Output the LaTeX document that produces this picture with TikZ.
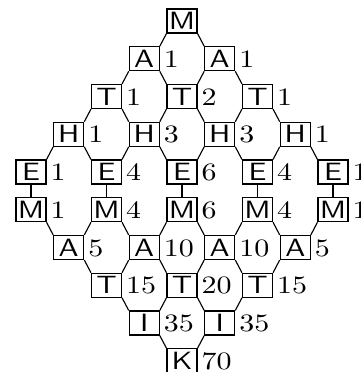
\documentclass[tikz,border=0pt]{standalone}
\begin{document}
\begin{tikzpicture}[x=0.4pt,y=0.4pt,
  cellbox/.style={draw,line width=0.45pt,rectangle,inner sep=0pt,minimum width=12pt,minimum height=9.6pt,font=\sffamily},
  numlab/.style={anchor=base west,inner sep=0pt,xshift=1.4pt,font=\rmfamily},
  link/.style={line width=0.45pt}]
\useasboundingbox (0,0) rectangle (360,-372);
\newcommand\widetxt[1]{\scalebox{1.2}[1]{#1}}
\newcommand\cell[4]{\node[cellbox] (n#1#2) at ({182+(#2-4)*37.75},{-21-#1*37.75}) {\widetxt{#3}};
  \node[numlab] (l#1#2) at (n#1#2.base east) {\widetxt{#4}};}
\node[cellbox] (n04) at (182,-21) {\widetxt{M}};
\cell{1}{3}{A}{1}\cell{1}{5}{A}{1}
\cell{2}{2}{T}{1}\cell{2}{4}{T}{2}\cell{2}{6}{T}{1}
\cell{3}{1}{H}{1}\cell{3}{3}{H}{3}\cell{3}{5}{H}{3}\cell{3}{7}{H}{1}
\cell{4}{0}{E}{1}\cell{4}{2}{E}{4}\cell{4}{4}{E}{6}\cell{4}{6}{E}{4}\cell{4}{8}{E}{1}
\cell{5}{0}{M}{1}\cell{5}{2}{M}{4}\cell{5}{4}{M}{6}\cell{5}{6}{M}{4}\cell{5}{8}{M}{1}
\cell{6}{1}{A}{5}\cell{6}{3}{A}{10}\cell{6}{5}{A}{10}\cell{6}{7}{A}{5}
\cell{7}{2}{T}{15}\cell{7}{4}{T}{20}\cell{7}{6}{T}{15}
\cell{8}{3}{I}{35}\cell{8}{5}{I}{35}
\cell{9}{4}{K}{70}
\foreach \a/\b in {04/13,13/22,15/24,22/31,24/33,26/35,31/40,33/42,35/44,37/46,
  52/61,54/63,56/65,58/67,63/72,65/74,67/76,74/83,76/85,85/94}
  \draw[link] (n\a.south west) -- (n\b.north east);
\foreach \a/\b in {04/15,13/24,15/26,22/33,24/35,26/37,31/42,33/44,35/46,37/48,
  50/61,52/63,54/65,56/67,61/72,63/74,65/76,72/83,74/85,83/94}
  \draw[link] (n\a.south east) -- (n\b.north west);
\foreach \a/\b in {40/50,42/52,44/54,46/56,48/58}
  \draw[link] (n\a.south) -- (n\b.north);
\end{tikzpicture}
\end{document}
